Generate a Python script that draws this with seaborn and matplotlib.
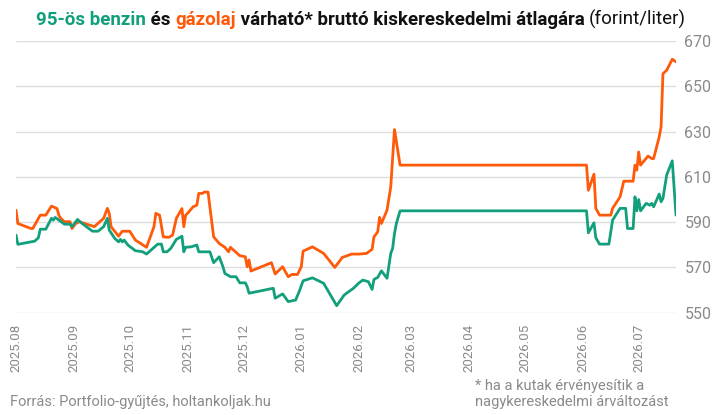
import numpy as np
import pandas as pd
import seaborn as sns
import matplotlib.pyplot as plt

# days since 2025-08-01 and prices (forint/liter)
diesel_days = [0, 1, 8, 9, 13, 16, 19, 22, 23, 24, 26, 29, 30, 32, 34, 42, 45, 47, 49, 50,
               51, 55, 57, 61, 64, 70, 74, 75, 77, 79, 82, 84, 86, 89, 90, 91, 92, 95, 97, 98,
               100, 101, 103, 106, 109, 112, 114, 115, 120, 123, 124, 125, 126, 137, 139, 143,
               146, 148, 151, 153, 154, 159, 165, 171, 175, 180, 184, 188, 191, 192, 194, 195,
               196, 199, 201, 203, 206, 306, 307, 310, 311, 313, 319, 320, 324, 326, 331, 332,
               333, 334, 335, 339, 341, 342, 345, 346, 347, 349, 352, 354]
diesel = [595.3, 589.4, 587.2, 587.2, 593.1, 593.1, 597.1, 596.0, 593.0, 591.7, 590.2, 590.2,
          587.2, 589.4, 590.2, 588.0, 590.2, 591.7, 596.1, 593.9, 588.0, 583.8, 586.0, 586.0,
          582.1, 578.9, 588.0, 593.9, 593.1, 583.5, 583.3, 584.3, 591.7, 596.0, 588.0, 593.1,
          593.9, 596.8, 597.5, 602.7, 602.7, 603.3, 603.3, 583.5, 580.6, 578.9, 576.9, 578.9,
          575.2, 574.7, 570.3, 573.3, 568.4, 572.1, 567.1, 570.3, 565.9, 566.9, 566.9, 570.3,
          577.2, 579.1, 576.2, 570.0, 574.4, 575.9, 575.9, 576.2, 578.0, 583.5, 585.7, 592.1,
          589.4, 595.3, 605.6, 630.9, 615.2, 615.2, 604.1, 611.2, 596.1, 593.1, 593.1, 596.1,
          601.2, 608.1, 608.1, 615.2, 613.0, 621.0, 615.2, 619.2, 618.1, 618.1, 627.7, 632.1,
          655.6, 657.1, 662.0, 660.8]

petrol_days = [0, 1, 8, 10, 12, 13, 16, 19, 20, 21, 23, 26, 29, 30, 33, 35, 41, 44, 47, 49,
               50, 53, 55, 56, 57, 58, 60, 64, 68, 70, 76, 78, 79, 81, 83, 86, 89, 90, 91, 94,
               97, 98, 102, 104, 106, 109, 111, 112, 115, 118, 120, 123, 124, 125, 138, 139, 143,
               146, 150, 152, 154, 159, 165, 172, 176, 181, 184, 186, 189, 191, 192, 194, 196,
               199, 201, 202, 203, 204, 206, 306, 307, 310, 311, 313, 318, 320, 324, 327, 328,
               331, 332, 333, 334, 335, 338, 340, 341, 342, 345, 346, 347, 349, 352, 354]
petrol = [584.3, 580.2, 581.3, 581.6, 583.1, 586.9, 586.9, 591.7, 590.9, 592.1, 590.9, 589.1,
          589.1, 588.0, 591.2, 589.7, 586.0, 586.0, 588.0, 591.7, 586.5, 582.8, 581.3, 582.4,
          581.3, 582.1, 579.9, 577.4, 576.9, 575.9, 580.3, 580.3, 576.9, 576.9, 578.4, 582.4,
          583.8, 576.9, 578.9, 579.1, 579.9, 576.9, 576.9, 576.9, 572.1, 574.7, 570.3, 567.4,
          565.9, 565.9, 563.2, 563.2, 561.5, 558.6, 560.8, 556.4, 558.3, 554.9, 555.6, 559.6,
          564.1, 565.4, 563.0, 553.1, 557.8, 560.8, 563.2, 564.4, 563.7, 560.3, 564.7, 565.6,
          568.5, 565.2, 576.2, 578.4, 585.0, 589.4, 595.0, 595.0, 585.3, 589.7, 583.1, 580.3,
          580.3, 590.9, 596.1, 596.1, 587.2, 587.2, 601.2, 595.0, 600.0, 595.0, 598.3, 597.5,
          598.3, 596.8, 602.4, 599.0, 600.5, 610.8, 617.1, 593.1]

month_ticks = pd.date_range("2025-08-01", "2026-07-01", freq="MS")
y_ticks = [550, 570, 590, 610, 630, 650, 670]

GREEN = "#12a07c"
ORANGE = "#ff5a0a"
GREY = "#8a8a8a"

start = pd.Timestamp("2025-08-01")
df_diesel = pd.DataFrame({"date": start + pd.to_timedelta(diesel_days, unit="D"), "price": diesel})
df_petrol = pd.DataFrame({"date": start + pd.to_timedelta(petrol_days, unit="D"), "price": petrol})

sns.set_style("white")
plt.rcParams["font.family"] = ["Roboto", "DejaVu Sans"]

fig = plt.figure(figsize=(7.18, 4.15), dpi=100)
ax = fig.add_axes([0.0223, 0.2465, 0.9192, 0.6545])

sns.lineplot(data=df_diesel, x="date", y="price", color=ORANGE, lw=2.0, ax=ax)
sns.lineplot(data=df_petrol, x="date", y="price", color=GREEN, lw=2.0, ax=ax)

ax.set_xlim(start, start + pd.Timedelta(days=354))
ax.set_ylim(550, 670)
ax.set_xticks(month_ticks)
ax.set_xticklabels([d.strftime("%Y.%m") for d in month_ticks], rotation=90,
                   color=GREY, fontsize=9.5)
ax.set_yticks(y_ticks)
ax.yaxis.tick_right()
ax.tick_params(axis="y", labelcolor=GREY, labelsize=11.5, length=0, pad=6)
ax.tick_params(axis="x", length=0, pad=8)
ax.grid(axis="y", color="#dddddd", lw=1)
ax.set_axisbelow(True)
ax.set_xlabel("")
ax.set_ylabel("")
for s in ax.spines.values():
    s.set_visible(False)

# multi-coloured title
parts = [("95-ös benzin", GREEN, "bold"), (" és ", "#111111", "bold"),
         ("gázolaj", ORANGE, "bold"),
         (" várható* bruttó kiskereskedelmi átlagára ", "#111111", "bold"),
         ("(forint/liter)", "#111111", "normal")]
renderer = fig.canvas.get_renderer()
texts = [fig.text(0, 0.94, s, color=c, fontweight=w, fontsize=13.5, va="baseline")
         for s, c, w in parts]
widths = [t.get_window_extent(renderer).width for t in texts]
x = (fig.bbox.width - sum(widths)) / 2 + 2
for t, w in zip(texts, widths):
    t.set_x(x / fig.bbox.width)
    x += w

fig.text(0.014, 0.022, "Forrás: Portfolio-gyűjtés, holtankoljak.hu", color=GREY, fontsize=10.5)
fig.text(0.662, 0.022, "* ha a kutak érvényesítik a\nnagykereskedelmi árváltozást",
         color=GREY, fontsize=10.5, linespacing=1.15)

fig.savefig("out.png", dpi=100)
